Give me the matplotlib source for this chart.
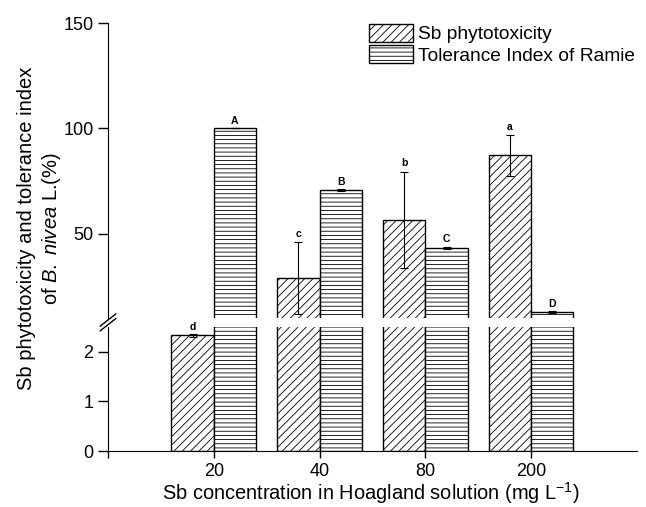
import matplotlib
matplotlib.use("Agg")
import matplotlib.pyplot as plt
import numpy as np

plt.rcParams['font.family'] = ['Liberation Sans', 'DejaVu Sans']
plt.rcParams['mathtext.fontset'] = 'custom'
plt.rcParams['mathtext.rm'] = 'Liberation Sans'
plt.rcParams['mathtext.it'] = 'Liberation Sans:italic'
plt.rcParams['hatch.linewidth'] = 0.6

concs = ['20', '40', '80', '200']
phyto = [2.33, 29.1, 56.5, 87.2]
phyto_err = [0.03, 17.0, 23.0, 9.7]
phyto_letters = ['d', 'c', 'b', 'a']
tol = [100.0, 70.7, 43.4, 13.0]
tol_err = [0.0, 0.5, 0.5, 0.5]
tol_letters = ['A', 'B', 'C', 'D']

x = np.arange(1, len(concs) + 1)
w = 0.4

fig = plt.figure(figsize=(6.46, 5.07), dpi=100)
ax_top = fig.add_axes([0.1672, 0.3728, 0.8188, 0.5818])
ax_bot = fig.add_axes([0.1672, 0.1099, 0.8188, 0.2457])

for ax in (ax_top, ax_bot):
    ax.bar(x, phyto, width=-w, align='edge', color='white', edgecolor='black',
           hatch='////', linewidth=1, label='Sb phytotoxicity')
    ax.bar(x, tol, width=w, align='edge', color='white', edgecolor='black',
           hatch='----', linewidth=1, label='Tolerance Index of Ramie')
    ax.errorbar(x - w / 2, phyto, yerr=phyto_err, fmt='none', ecolor='black',
                elinewidth=0.8, capsize=3, capthick=0.8)
    ax.errorbar(x + w / 2, tol, yerr=tol_err, fmt='none', ecolor='black',
                elinewidth=0.8, capsize=3, capthick=0.8)
    ax.set_xlim(0, 5)
    ax.spines['top'].set_visible(False)
    ax.spines['right'].set_visible(False)
    ax.tick_params(axis='both', labelsize=13, direction='out', length=7, width=1)

ax_top.set_ylim(10, 150)
ax_top.set_yticks([50, 100, 150])
ax_top.spines['bottom'].set_visible(False)
ax_top.set_xticks([])

ax_bot.set_ylim(0, 2.5)
ax_bot.set_yticks([0, 1, 2])
ax_bot.set_xticks([0, 1, 2, 3, 4])
ax_bot.set_xticklabels([''] + concs)
ax_bot.tick_params(axis='x', length=5)

# significance letters
for i in range(len(concs)):
    v = phyto[i] + phyto_err[i]
    ax = ax_top if phyto[i] > 10 else ax_bot
    off = 1.5 if ax is ax_top else 0.03
    ax.text(x[i] - w / 2, v + off, phyto_letters[i], ha='center', va='bottom',
            fontsize=7.5, fontweight='bold', clip_on=False)
    v = tol[i] + tol_err[i]
    ax_top.text(x[i] + w / 2, v + 1.0, tol_letters[i], ha='center', va='bottom',
                fontsize=7.5, fontweight='bold')

# axis break marks
for yy in (0.3728 - 0.004, 0.3556 + 0.004):
    fig.add_artist(plt.Line2D([0.1672 - 0.012, 0.1672 + 0.012],
                              [yy - 0.012, yy + 0.012], color='black', lw=1))

h, l = ax_top.get_legend_handles_labels()
fig.legend(h[:2], l[:2], loc='upper left', bbox_to_anchor=(0.557, 0.972),
           frameon=False, fontsize=13.8, handlelength=2.3, handleheight=1.1,
           handletextpad=0.25, labelspacing=0.08, borderpad=0)

fig.text(0.062, 0.55, 'Sb phytotoxicity and tolerance index\nof $\\it{B.}$ $\\it{nivea}$ L.(%)',
         rotation=90, ha='center', va='center', multialignment='center', fontsize=14.5)
fig.text(0.574, 0.028, 'Sb concentration in Hoagland solution (mg L$^{-1}$)',
         ha='center', va='center', fontsize=14.4)

fig.savefig('out.png', dpi=100)
